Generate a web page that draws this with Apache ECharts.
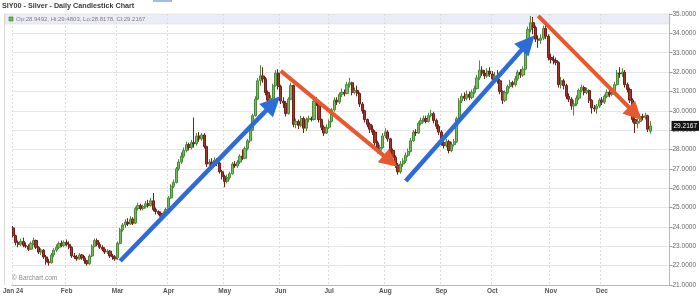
<!DOCTYPE html>
<html><head><meta charset="utf-8">
<script src="https://cdn.jsdelivr.net/npm/echarts@6/dist/echarts.min.js"></script>
<style>html,body{margin:0;padding:0;background:#fff}#c{width:699px;height:298px}</style>
</head><body><div id="c"></div>
<script>
// ---- data: [open, close, low, high] per trading day ----
const monthLabels = ['Jan 24','Feb','Mar','Apr','May','Jun','Jul','Aug','Sep','Oct','Nov','Dec'];
const jan = [[23.95,23.55,23.45,24.05],[23.55,23.20,23.05,23.60],[23.20,23.10,22.95,23.30],[23.10,23.25,23.00,23.40],[23.25,23.05,22.95,23.45],[23.05,23.00,22.90,23.20],[23.00,22.85,22.75,23.10],[22.85,23.15,22.80,23.25],[23.15,23.30,23.05,23.45],[23.30,22.95,22.85,23.35],[22.95,22.70,22.60,23.00],[22.70,22.80,22.55,22.90],[22.80,22.45,22.35,22.85],[22.45,22.20,22.05,22.55],[22.20,22.15,22.00,22.35],[22.15,22.55,22.10,22.65],[22.55,22.80,22.45,22.90],[22.80,22.95,22.70,23.10],[22.95,23.15,22.85,23.25],[23.15,23.05,22.95,23.30],[23.05,23.20,22.95,23.30]];
const feb = [[23.20,23.10,23.00,23.35],[23.10,22.95,22.85,23.25],[22.95,22.50,22.40,23.00],[22.50,22.45,22.35,22.65],[22.45,22.35,22.25,22.55],[22.35,22.55,22.30,22.65],[22.55,22.40,22.30,22.60],[22.40,22.25,22.10,22.50],[22.25,22.10,22.00,22.30],[22.10,22.50,22.05,22.60],[22.50,23.00,22.45,23.10],[23.00,23.30,22.95,23.40],[23.30,23.10,23.00,23.40],[23.10,22.95,22.85,23.20],[22.95,22.85,22.75,23.05],[22.85,22.70,22.60,22.95],[22.70,22.75,22.60,22.85],[22.75,22.50,22.40,22.80],[22.50,22.45,22.30,22.60],[22.45,22.35,22.25,22.55]];
const mar = [[22.40,23.15,22.30,23.25],[23.15,23.85,23.10,23.95],[23.85,24.10,23.75,24.20],[24.10,24.25,23.95,24.40],[24.25,24.15,24.05,24.45],[24.15,24.40,24.10,24.55],[24.40,24.20,24.10,24.50],[24.20,24.95,24.15,25.05],[24.95,25.10,24.85,25.25],[25.10,24.95,24.85,25.20],[24.95,25.05,24.85,25.15],[25.05,25.20,24.95,25.35],[25.20,25.10,25.00,25.40],[25.10,25.35,25.05,25.50],[25.35,24.90,24.80,25.75],[24.90,24.80,24.65,25.00],[24.80,24.70,24.60,24.85],[24.70,24.55,24.45,24.80],[24.55,24.65,24.45,24.80],[24.65,24.90,24.55,25.00]];
const apr = [[24.95,25.50,24.90,25.60],[25.50,26.10,25.45,26.20],[26.10,26.30,26.00,26.45],[26.30,27.00,26.25,27.10],[27.00,27.35,26.90,27.50],[27.35,27.65,27.25,27.85],[27.65,27.95,27.55,28.10],[27.95,28.25,27.85,28.40],[28.25,28.10,27.95,28.35],[28.10,28.35,28.00,28.50],[28.35,28.30,28.10,29.65],[28.30,28.70,28.20,28.85],[28.70,28.55,28.40,28.90],[28.55,28.75,28.45,28.85],[28.75,28.15,28.05,28.85],[28.15,27.25,27.10,28.20],[27.25,27.35,27.10,27.50],[27.35,27.20,27.05,27.55],[27.20,27.45,27.10,27.60],[27.45,27.30,27.15,27.55],[27.30,26.85,26.75,27.35],[26.85,26.60,26.45,26.95]];
const may = [[26.60,26.35,26.05,26.70],[26.35,26.55,26.25,26.70],[26.55,26.75,26.45,26.85],[26.75,27.25,26.70,27.35],[27.25,27.15,27.05,27.40],[27.15,27.35,27.05,27.45],[27.35,27.65,27.25,27.75],[27.65,27.55,27.45,28.00],[27.55,28.05,27.50,28.15],[28.05,28.45,27.95,28.55],[28.45,29.00,28.35,29.10],[29.00,29.75,28.95,29.85],[29.75,30.60,29.70,30.75],[30.60,31.55,30.55,31.70],[31.55,31.80,31.30,32.35],[31.80,31.65,31.45,32.25],[31.65,30.95,30.80,31.75],[30.95,30.55,30.40,31.05],[30.55,30.65,30.40,30.80],[30.65,31.30,30.60,31.40],[31.30,31.95,31.25,32.10],[31.95,31.25,31.10,32.15]];
const jun = [[31.25,30.50,30.35,31.35],[30.50,30.40,30.15,30.70],[30.40,29.85,29.70,30.50],[29.85,30.60,29.80,30.70],[30.60,31.30,30.55,31.45],[31.30,29.30,29.15,31.35],[29.30,29.45,29.10,29.60],[29.45,29.25,29.05,29.55],[29.25,29.60,29.15,29.75],[29.60,29.10,28.85,29.70],[29.10,29.55,28.95,29.65],[29.55,29.60,29.40,29.75],[29.60,29.55,29.45,29.70],[29.55,30.50,29.50,30.65],[30.50,30.45,30.25,30.70],[30.45,29.55,29.40,30.50],[29.55,29.15,29.00,29.60],[29.15,28.85,28.70,29.25],[28.85,29.15,28.80,29.30]];
const jul = [[29.15,29.45,29.05,29.55],[29.45,30.05,29.40,30.15],[30.05,30.55,29.95,30.70],[30.55,30.45,30.30,30.70],[30.45,30.85,30.35,30.95],[30.85,30.95,30.70,31.15],[30.95,30.90,30.75,31.10],[30.90,31.35,30.85,31.50],[31.35,31.45,31.20,31.70],[31.45,30.95,30.80,31.50],[30.95,31.05,30.85,31.20],[31.05,30.90,30.75,31.30],[30.90,30.35,30.20,30.95],[30.35,30.00,29.85,30.45],[30.00,29.55,29.40,30.05],[29.55,29.30,29.15,29.60],[29.30,29.05,28.85,29.40],[29.05,28.90,28.75,29.25],[28.90,28.35,28.20,29.00],[28.35,27.95,27.80,28.45],[27.95,28.10,27.85,28.25],[28.10,28.70,28.05,28.85]];
const aug = [[28.70,28.90,28.60,29.10],[28.90,28.55,28.40,29.00],[28.55,27.95,27.80,28.60],[27.95,27.60,27.45,28.05],[27.60,27.20,27.05,27.70],[27.20,26.85,26.70,27.30],[26.85,27.25,26.75,27.40],[27.25,27.40,27.10,27.55],[27.40,27.70,27.30,27.85],[27.70,27.90,27.60,28.05],[27.90,28.45,27.85,28.60],[28.45,28.90,28.40,29.00],[28.90,28.85,28.70,29.05],[28.85,29.35,28.80,29.45],[29.35,29.50,29.25,29.65],[29.50,29.60,29.40,29.75],[29.60,29.45,29.35,29.75],[29.45,29.75,29.40,29.90],[29.75,29.85,29.65,30.05],[29.85,29.50,29.35,29.95],[29.50,29.20,29.05,29.60],[29.20,28.90,28.75,29.30]];
const sep = [[28.90,28.35,28.20,29.00],[28.35,28.20,28.05,28.50],[28.20,28.40,28.10,28.55],[28.40,27.95,27.80,28.50],[27.95,28.25,27.85,28.40],[28.25,28.40,28.15,28.55],[28.40,29.60,28.35,29.70],[29.60,30.50,29.55,30.65],[30.50,30.75,30.40,30.90],[30.75,30.65,30.50,30.95],[30.65,30.85,30.55,31.05],[30.85,30.70,30.55,31.00],[30.70,30.95,30.60,31.10],[30.95,31.15,30.85,31.30],[31.15,31.70,31.10,31.85],[31.70,32.10,31.60,32.60],[32.10,31.95,31.80,32.30],[31.95,31.80,31.65,32.10],[31.80,32.05,31.70,32.20],[32.05,31.90,31.75,32.25]];
const oct = [[31.90,31.65,31.50,32.05],[31.65,31.80,31.55,32.00],[31.80,31.55,31.40,32.10],[31.55,31.00,30.85,31.65],[31.00,30.55,30.35,31.05],[30.55,30.95,30.45,31.05],[30.95,31.25,30.85,31.35],[31.25,31.45,31.15,31.60],[31.45,31.35,31.20,31.55],[31.35,31.65,31.25,31.80],[31.65,32.00,31.55,32.10],[32.00,31.85,31.70,32.15],[31.85,32.15,31.75,32.30],[32.15,33.50,32.10,33.65],[33.50,34.20,33.40,34.35],[34.20,34.55,34.05,34.90],[34.55,34.30,33.95,34.85],[34.30,33.70,33.55,34.40],[33.70,33.65,33.25,33.90],[33.65,33.75,33.45,33.95],[33.75,34.25,33.65,34.40],[34.25,33.85,33.70,34.45],[33.85,32.75,32.60,33.95]];
const nov = [[32.75,32.65,32.45,32.95],[32.65,32.60,32.40,32.85],[32.60,32.50,32.35,32.75],[32.50,31.35,31.20,32.55],[31.35,31.55,31.15,31.75],[31.55,31.30,31.10,31.65],[31.30,30.75,30.60,31.40],[30.75,30.60,30.45,30.90],[30.60,30.25,30.05,30.70],[30.25,30.35,29.75,30.55],[30.35,30.65,30.25,30.80],[30.65,31.05,30.55,31.15],[31.05,31.20,30.95,31.35],[31.20,30.95,30.80,31.30],[30.95,31.05,30.85,31.20],[31.05,30.55,30.40,31.10],[30.55,30.15,29.85,30.60],[30.15,30.10,29.95,30.30],[30.10,30.25,29.85,30.35],[30.25,30.55,30.15,30.65]];
const dec = [[30.55,30.45,30.30,30.70],[30.45,30.75,30.35,30.85],[30.75,30.95,30.65,31.10],[30.95,30.85,30.70,31.10],[30.85,31.00,30.75,31.15],[31.00,31.35,30.90,31.50],[31.35,31.95,31.30,32.10],[31.95,31.90,31.70,32.25],[31.90,32.00,31.75,32.20],[32.00,31.35,31.20,32.10],[31.35,31.10,30.95,31.45],[31.10,30.55,30.40,31.20],[30.55,29.55,29.40,30.65],[29.55,29.35,28.85,29.65],[29.35,29.45,29.10,29.60],[29.45,29.70,29.35,29.85],[29.70,29.65,29.50,29.85],[29.65,29.75,29.55,29.90],[29.75,29.05,28.90,29.80],[28.9492,29.2167,28.8178,29.4803]];
const padDays = 7; // empty trading days to the right edge
const yTicks = [21,22,23,24,25,26,27,28,29,30,31,32,33,34,35];
// arrows: [fromIndex, fromPrice, toIndex, toPrice]
const blueArrows = [[41.5,22.24,101.7,30.38],[153.9,26.37,202.4,33.52]];
const redArrows = [[104.9,32.06,148.4,27.40],[206,34.90,243.9,29.86]];

// ---- build ----
const months = [jan,feb,mar,apr,may,jun,jul,aug,sep,oct,nov,dec];
const categories = [], values = [];
months.forEach((m,mi)=>m.forEach((d,j)=>{categories.push(monthLabels[mi]+'|'+j); values.push(d);}));
for(let k=0;k<padDays;k++){categories.push('pad|'+(k+1)); values.push('-');}
const last = dec[dec.length-1];
const isMonthStart = (idx, v) => String(v).endsWith('|0') && !String(v).startsWith('pad');

const arrowItem = (a,color,width,size) => [
  {coord:[a[0],a[1]], symbol:'none', lineStyle:{color,width,type:'solid',opacity:1}},
  {coord:[a[2],a[3]], symbol:'triangle', symbolSize:size, lineStyle:{color,width,type:'solid',opacity:1}, itemStyle:{color}}
];

const chart = echarts.init(document.getElementById('c'));
chart.setOption({
  animation:false,
  textStyle:{fontFamily:'Liberation Sans, Arial, sans-serif'},
  title:{text:'SIY00 - Silver - Daily Candlestick Chart', left:2, top:3, padding:0,
    textStyle:{fontSize:7.2, fontWeight:'bold', color:'#3a3a3a', fontFamily:'Liberation Sans'}},
  grid:{left:7, right:29, top:14, bottom:13},
  xAxis:{type:'category', data:categories, boundaryGap:true,
    axisLine:{lineStyle:{color:'#b8b8b8'}},
    axisTick:{interval:isMonthStart, length:3, lineStyle:{color:'#999'}},
    axisLabel:{interval:isMonthStart, formatter:v=>v.split('|')[0], fontSize:6.5, fontWeight:'bold', color:'#555', margin:3},
    splitLine:{show:true, interval:isMonthStart, lineStyle:{color:'#dcdcdc', type:[2,2]}}},
  yAxis:{type:'value', position:'right', min:yTicks[0], max:yTicks[yTicks.length-1], interval:1, scale:true,
    axisLine:{show:true, lineStyle:{color:'#b8b8b8'}},
    axisTick:{show:true, length:3, lineStyle:{color:'#999'}},
    axisLabel:{formatter:v=>v.toFixed(4), fontSize:6.5, color:'#666', margin:3},
    splitLine:{lineStyle:{color:'#e6e6e6'}}},
  graphic:[
    {type:'line', z:-1, shape:{x1:4.5, y1:14, x2:4.5, y2:285}, style:{stroke:'#d8d8d8', lineWidth:1}},
    {type:'rect', z:-1, shape:{x:5, y:14, width:665, height:10}, style:{fill:'#ebebf9', stroke:'#d4d4e4', lineWidth:0.5}},
    {type:'rect', z:5, shape:{x:9, y:17, width:4, height:4}, style:{fill:'#6cbf5a', stroke:'#2f6a22', lineWidth:0.6}},
    {type:'text', z:5, x:16, y:19, style:{text:'Op:'+last[0].toFixed(4)+', Hi:'+last[3].toFixed(4)+', Lo:'+last[2].toFixed(4)+', Cl:'+last[1].toFixed(4), fontSize:6, fill:'#808080', verticalAlign:'middle', fontFamily:'Liberation Sans'}},
    {type:'text', z:5, x:12, y:278, style:{text:'© Barchart.com', fontSize:6.5, fill:'#8a8a8a', verticalAlign:'middle', fontFamily:'Liberation Sans'}},
    {type:'line', z:5, shape:{x1:153, y1:1, x2:172, y2:1}, style:{stroke:'#4a78d0', lineWidth:1}}
  ],
  series:[{
    type:'candlestick', data:values, barWidth:2.7,
    itemStyle:{color:'#72c05c', color0:'#a3352a', borderColor:'#4b8a3b', borderColor0:'#6e2019', borderWidth:1},
    markLine:{silent:true, symbol:['none','none'], animation:false,
      label:{show:false},
      data:[
        ...blueArrows.map(a=>arrowItem(a,'#2d6bd8',4.5,[19,20])),
        ...redArrows.map(a=>arrowItem(a,'#e8582f',4,[18,18])),
        {yAxis:last[1], symbol:'none', lineStyle:{color:'rgba(0,0,0,0)', width:0, opacity:1},
         label:{show:true, position:'end', formatter:()=>last[1].toFixed(4), color:'#fff', backgroundColor:'#141414', padding:[2,2,1,2], fontSize:6.5, distance:2}}
      ]}
  }]
});
</script></body></html>
